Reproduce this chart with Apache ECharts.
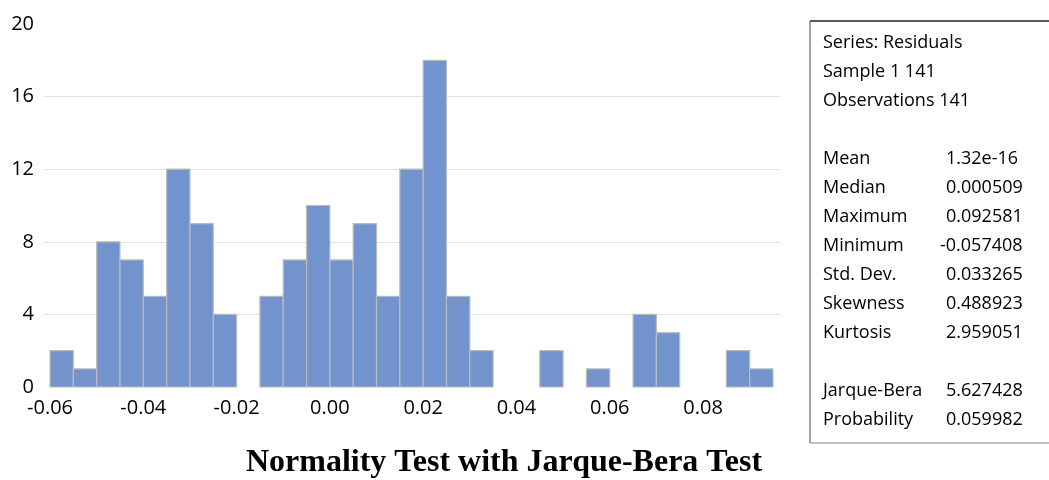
<!DOCTYPE html>
<html>
<head>
<meta charset="utf-8">
<title>Normality Test with Jarque-Bera Test</title>
<script src="https://cdn.jsdelivr.net/npm/echarts@6/dist/echarts.min.js"></script>
<style>
  html, body { margin: 0; padding: 0; background: #fff; }
  #chart { width: 1049px; height: 480px; }
</style>
</head>
<body>
<div id="chart"></div>
<script>
// histogram bins (lower edge of each bin, width 0.005)
var binLow = [-0.060, -0.055, -0.050, -0.045, -0.040, -0.035, -0.030, -0.025, -0.020, -0.015,
              -0.010, -0.005, 0.000, 0.005, 0.010, 0.015, 0.020, 0.025, 0.030, 0.035,
              0.040, 0.045, 0.050, 0.055, 0.060, 0.065, 0.070, 0.075, 0.080, 0.085, 0.090];
var binWidth = 0.005;
var counts = [2, 1, 8, 7, 5, 12, 9, 4, 0, 5,
              7, 10, 7, 9, 5, 12, 18, 5, 2, 0,
              0, 2, 0, 1, 0, 4, 3, 0, 0, 2, 1];
var xTicks = [-0.06, -0.04, -0.02, 0.00, 0.02, 0.04, 0.06, 0.08];

var statLabels = ['Mean', 'Median', 'Maximum', 'Minimum', 'Std. Dev.', 'Skewness', 'Kurtosis'];
var statValues = ['1.32e-16', '0.000509', '0.092581', '-0.057408', '0.033265', '0.488923', '2.959051'];
var testLabels = ['Jarque-Bera', 'Probability'];
var testValues = ['5.627428', '0.059982'];
var headerLines = ['Series: Residuals', 'Sample 1 141', 'Observations 141'];

var chart = echarts.init(document.getElementById('chart'));

var bars = binLow.map(function (lo, i) { return [lo, lo + binWidth, counts[i]]; });

var boxFont = '18px "Open Sans", sans-serif';
var graphics = [
  // stats box borders
  { type: 'line', shape: { x1: 810, y1: 21, x2: 1049, y2: 21 }, style: { stroke: '#222', lineWidth: 1.5 } },
  { type: 'line', shape: { x1: 810, y1: 21, x2: 810, y2: 443 }, style: { stroke: '#444', lineWidth: 1 } },
  { type: 'line', shape: { x1: 810, y1: 443, x2: 1049, y2: 443 }, style: { stroke: '#888', lineWidth: 1 } },
  { type: 'text', x: 504, y: 463, style: {
      text: 'Normality Test with Jarque-Bera Test',
      align: 'center', verticalAlign: 'middle',
      font: 'bold 32px "Liberation Serif", "Times New Roman", serif', fill: '#000' } }
];
function addText(txt, x, y) {
  graphics.push({ type: 'text', x: x, y: y, style: {
    text: txt, font: boxFont, fill: '#000', verticalAlign: 'middle' } });
}
headerLines.forEach(function (t, i) { addText(t, 823, 43 + i * 29); });
statLabels.forEach(function (t, i) {
  addText(t, 823, 159 + i * 29);
  addText(statValues[i], statValues[i].charAt(0) === '-' ? 940 : 946, 159 + i * 29);
});
testLabels.forEach(function (t, i) {
  addText(t, 823, 391 + i * 29);
  addText(testValues[i], 946, 391 + i * 29);
});

chart.setOption({
  animation: false,
  grid: { left: 44, right: 269, top: 24, bottom: 93 },
  xAxis: {
    type: 'value',
    min: -0.06129,
    max: 0.0965,
    axisLine: { show: false },
    axisTick: { show: false },
    splitLine: { show: false },
    axisLabel: {
      customValues: xTicks,
      formatter: function (v) { return v.toFixed(2); },
      color: '#000',
      fontSize: 20,
      fontFamily: '"Open Sans", sans-serif',
      margin: 11
    }
  },
  yAxis: {
    type: 'value',
    min: 0,
    max: 20,
    interval: 4,
    axisLine: { show: false },
    axisTick: { show: false },
    splitLine: { show: true, showMinLine: false, showMaxLine: false, lineStyle: { color: '#e2e2e2', width: 1 } },
    axisLabel: {
      color: '#000',
      fontSize: 20,
      fontFamily: '"Open Sans", sans-serif',
      margin: 10
    }
  },
  series: [{
    type: 'custom',
    data: bars,
    encode: { x: [0, 1], y: 2 },
    renderItem: function (params, api) {
      if (api.value(2) === 0) return null;
      var p0 = api.coord([api.value(0), api.value(2)]);
      var p1 = api.coord([api.value(1), 0]);
      return {
        type: 'rect',
        shape: { x: p0[0], y: p0[1], width: p1[0] - p0[0], height: p1[1] - p0[1] },
        style: { fill: '#7293cb', stroke: '#bcbcbc', lineWidth: 1.2 }
      };
    }
  }],
  graphic: graphics
});
</script>
</body>
</html>
